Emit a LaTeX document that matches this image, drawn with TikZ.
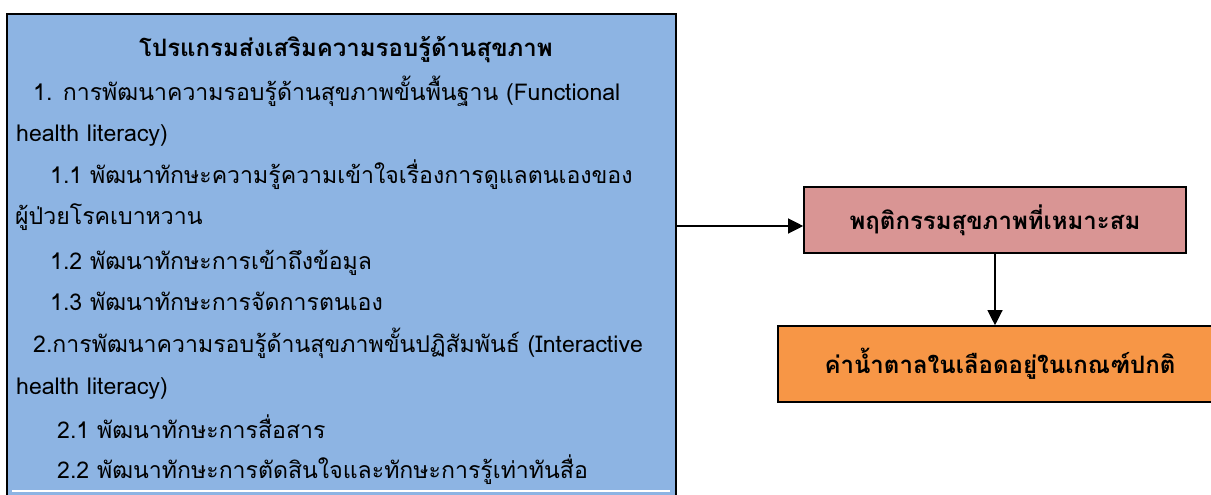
\documentclass[tikz,border=0pt]{standalone}
\usepackage{fontspec}
\setmainfont[Script=Thai]{Loma}
\usetikzlibrary{arrows.meta}
\definecolor{progblue}{RGB}{141,180,227}
\definecolor{behpink}{RGB}{217,149,148}
\definecolor{sugarorange}{RGB}{247,150,70}
\tikzset{
  boxline/.style={draw=black, line width=1.6pt, inner sep=0pt, rectangle},
  txt/.style={anchor=base west, inner sep=0pt, font=\fontsize{23.1}{26}\selectfont},
  ttl/.style={anchor=base, inner sep=0pt, font=\fontsize{24}{27}\selectfont\bfseries},
  boxtxt/.style={font=\fontsize{24}{27}\selectfont\bfseries},
  arr/.style={line width=1.2pt, -{Triangle[length=15pt,width=15pt]}},
}
\begin{document}
\begin{tikzpicture}[x=1pt,y=-1pt]
\useasboundingbox (0,0) rectangle (1211,495);
\clip (0,0) rectangle (1211,495);
\fill[white] (0,0) rectangle (1211,495);
% big program box (bottom edge runs off the picture)
\node[boxline, fill=progblue, minimum width=669pt, minimum height=491pt] (prog) at (341.5,259.5) {};
\draw[white, line width=2pt] (12,491) -- (670,491);
% texts of the program box
\node[ttl] (t0) at (346,57) {โปรแกรมส่งเสริมความรอบรู้ด้านสุขภาพ};
\node[txt] (t1) at (33,101) {1. การพัฒนาความรอบรู้ด้านสุขภาพขั้นพื้นฐาน (Functional};
\node[txt] (t2) at (16,141) {health literacy)};
\node[txt] (t3) at (50,183) {1.1 พัฒนาทักษะความรู้ความเข้าใจเรื่องการดูแลตนเองของ};
\node[txt] (t4) at (15,224) {ผู้ป่วยโรคเบาหวาน};
\node[txt] (t5) at (50,269) {1.2 พัฒนาทักษะการเข้าถึงข้อมูล};
\node[txt] (t6) at (50,310) {1.3 พัฒนาทักษะการจัดการตนเอง};
\node[txt] (t7) at (33,352) {2.การพัฒนาความรอบรู้ด้านสุขภาพขั้นปฏิสัมพันธ์ (Interactive};
\node[txt] (t8) at (16,394) {health literacy)};
\node[txt] (t9) at (57,438) {2.1 พัฒนาทักษะการสื่อสาร};
\node[txt] (t10) at (57,478) {2.2 พัฒนาทักษะการตัดสินใจและทักษะการรู้เท่าทันสื่อ};
% right boxes
\node[boxline, fill=behpink, minimum width=382pt, minimum height=66pt, boxtxt] (pink) at (995,220) {พฤติกรรมสุขภาพที่เหมาะสม};
\node[boxline, fill=sugarorange, minimum width=447pt, minimum height=76pt, boxtxt] (orange) at (1001.5,364) {\hspace*{-3pt}ค่าน้ำตาลในเลือดอยู่ในเกณฑ์ปกติ};
% connectors
\draw[arr] (prog.east |- 0,226) -- (pink.west |- 0,226);
\draw[arr] (pink.south) -- (pink.south |- orange.north);
\end{tikzpicture}
\end{document}
